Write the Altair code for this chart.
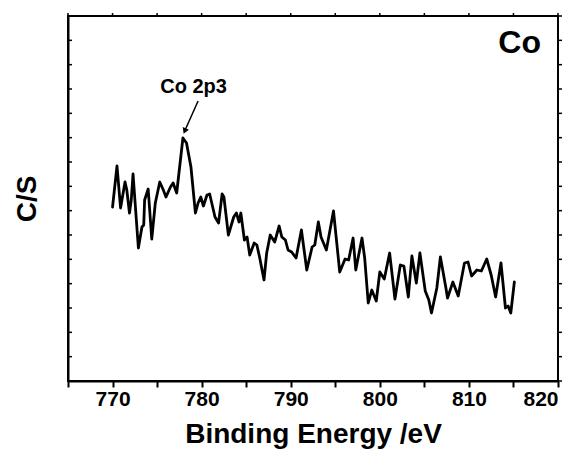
import altair as alt
import numpy as np
import pandas as pd

energy = [770.0, 770.5, 770.9, 771.4, 771.6, 771.9, 772.1, 772.3, 772.9, 773.3,
          773.5, 773.6, 774.0, 774.4, 774.8, 775.3, 775.7, 776.0, 776.5, 776.8,
          777.2, 777.9, 778.3, 778.8, 779.3, 779.6, 779.9, 780.2, 780.6, 780.9,
          781.5, 781.9, 782.3, 782.5, 783.0, 783.6, 783.9, 784.2, 784.4, 784.8,
          785.1, 785.4, 785.9, 786.2, 786.5, 787.0, 787.3, 787.7, 788.2, 788.7,
          789.0, 789.4, 789.7, 790.1, 790.6, 791.2, 791.8, 792.4, 792.7, 793.1,
          793.4, 794.0, 794.8, 795.5, 796.1, 796.5, 797.0, 797.3, 798.0, 798.3,
          798.7, 799.1, 799.6, 800.0, 800.5, 801.1, 801.7, 802.3, 802.7, 803.2,
          803.6, 804.1, 804.5, 805.1, 805.5, 805.8, 806.4, 806.8, 807.4, 807.6,
          808.2, 808.8, 809.5, 809.9, 810.3, 810.9, 811.4, 812.0, 812.5, 813.0,
          813.6, 814.1, 814.4, 814.7, 815.1]
counts = [174, 215, 173, 199, 191, 168, 181, 207, 133, 154,
          156, 181, 192, 142, 178, 199, 191, 184, 194, 198,
          188, 243, 238, 214, 168, 178, 184, 175, 186, 187,
          164, 158, 187, 184, 146, 164, 168, 159, 168, 141,
          144, 126, 138, 136, 124, 101, 128, 146, 139, 155,
          144, 141, 131, 129, 123, 151, 111, 134, 136, 159,
          144, 131, 170, 109, 122, 121, 143, 111, 143, 123,
          78, 91, 80, 109, 102, 128, 82, 116, 115, 84,
          125, 98, 128, 90, 81, 68, 93, 124, 94, 83,
          99, 85, 118, 119, 105, 111, 110, 122, 106, 84,
          118, 73, 75, 68, 99]

x_ticks = list(range(765, 821, 5))
y_ticks = list(np.linspace(0, 365, 16))

FONT = "Liberation Sans"
X_DOM = [765, 820]
Y_DOM = [0, 365]

df = pd.DataFrame({"E": energy, "I": counts})

xs = alt.Scale(domain=X_DOM, nice=False, zero=False)
ys = alt.Scale(domain=Y_DOM, nice=False, zero=False)

line = alt.Chart(df).mark_line(color="black", strokeWidth=2.8, strokeJoin="round",
                               strokeCap="round").encode(
    x=alt.X("E:Q", scale=xs,
            axis=alt.Axis(values=x_ticks, title="Binding Energy /eV",
                          labelExpr="datum.value % 10 == 0 ? datum.label : ''",
                          tickSize=6, tickWidth=2, tickColor="black",
                          domainColor="black", domainWidth=2,
                          labelFont=FONT, labelFontSize=21, labelFontWeight="bold",
                          labelColor="black", labelPadding=1,
                          titleFont=FONT, titleFontSize=28, titleFontWeight="bold",
                          titleColor="black", titlePadding=11, grid=False)),
    y=alt.Y("I:Q", scale=ys,
            axis=alt.Axis(title="C/S", labels=False, ticks=False,
                          domainColor="black", domainWidth=2,
                          titleFont=FONT, titleFontSize=28, titleFontWeight="bold",
                          titleColor="black", titlePadding=27, grid=False)),
)

ytick_df = pd.DataFrame({"I": y_ticks})
left_ticks = alt.Chart(ytick_df).mark_rule(color="black", strokeWidth=1.5).encode(
    y=alt.Y("I:Q", scale=ys), x=alt.value(0), x2=alt.value(4))
right_ticks = alt.Chart(ytick_df).mark_rule(color="black", strokeWidth=1.5).encode(
    y=alt.Y("I:Q", scale=ys), x=alt.value(490), x2=alt.value(494))

xtick_df = pd.DataFrame({"E": x_ticks})
top_ticks = alt.Chart(xtick_df).mark_rule(color="black", strokeWidth=1.5).encode(
    x=alt.X("E:Q", scale=xs), y=alt.value(-3), y2=alt.value(0))

ann_df = pd.DataFrame({"E": [779.1], "I": [288], "t": ["Co 2p3"]})
ann = alt.Chart(ann_df).mark_text(font=FONT, fontSize=20, fontWeight="bold",
                                  color="black", baseline="alphabetic").encode(
    x=alt.X("E:Q", scale=xs), y=alt.Y("I:Q", scale=ys), text="t:N")

arrow_df = pd.DataFrame({"E": [779.6], "I": [280], "E2": [778.2], "I2": [252]})
arrow = alt.Chart(arrow_df).mark_rule(color="black", strokeWidth=1.5).encode(
    x=alt.X("E:Q", scale=xs), y=alt.Y("I:Q", scale=ys), x2="E2:Q", y2="I2:Q")
head_df = pd.DataFrame({"E": [778.1], "I": [250]})
head = alt.Chart(head_df).mark_point(shape="triangle-up", filled=True, color="black",
                                      size=45, angle=203, opacity=1).encode(
    x=alt.X("E:Q", scale=xs), y=alt.Y("I:Q", scale=ys))

co_df = pd.DataFrame({"E": [815.7], "I": [328], "t": ["Co"]})
co = alt.Chart(co_df).mark_text(font=FONT, fontSize=32, fontWeight="bold",
                                color="black", baseline="alphabetic").encode(
    x=alt.X("E:Q", scale=xs), y=alt.Y("I:Q", scale=ys), text="t:N")

chart = alt.layer(line, left_ticks, right_ticks, top_ticks, ann, arrow, head, co).properties(
    width=490, height=365,
    autosize=alt.AutoSizeParams(type="none"),
    padding={"left": 60, "top": 8, "right": 15, "bottom": 78},
    background="white",
).configure_view(stroke="black", strokeWidth=2)

chart.save("out.html", embed_options={"renderer": "svg", "actions": False})
